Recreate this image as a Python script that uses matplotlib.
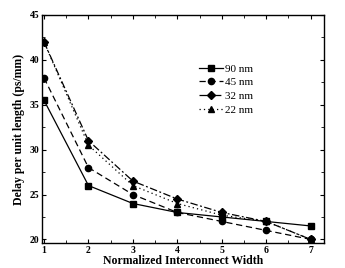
import matplotlib
matplotlib.use("Agg")
import matplotlib.pyplot as plt
from matplotlib.ticker import MultipleLocator

width = [1, 2, 3, 4, 5, 6, 7]
d90 = [35.5, 26, 24, 23, 22.5, 22, 21.5]
d45 = [38, 28, 25, 23, 22, 21, 20]
d32 = [42, 31, 26.5, 24.5, 23, 22, 20]
d22 = [42, 30.5, 26, 24, 22.7, 22, 20]

plt.rcParams['font.family'] = 'Liberation Serif'

fig = plt.figure(figsize=(3.45, 2.68), dpi=100)
ax = fig.add_axes([42/345, 1 - 243/268, 282/345, 228/268])

ax.plot(width, d90, '-', color='k', marker='s', ms=4.5, lw=0.9, label='90 nm')
ax.plot(width, d45, '--', color='k', marker='o', ms=4.5, lw=0.9, dashes=(5, 3), label='45 nm')
ax.plot(width, d32, '-.', color='k', marker='D', ms=4, lw=0.9, dashes=(6, 2, 1.5, 2), label='32 nm')
ax.plot(width, d22, ':', color='k', marker='^', ms=4.5, lw=0.9, dashes=(1, 2.5), label='22 nm')

ax.set_xlim(0.955, 7.3)
ax.set_ylim(19.6, 45)
ax.xaxis.set_major_locator(MultipleLocator(1))
ax.xaxis.set_minor_locator(MultipleLocator(0.5))
ax.yaxis.set_major_locator(MultipleLocator(5))
ax.yaxis.set_minor_locator(MultipleLocator(2.5))
ax.tick_params(which='both', direction='in', top=True, right=True, labelsize=7, pad=2)
ax.tick_params(which='major', length=3)
ax.tick_params(which='minor', length=2)
for lbl in ax.get_xticklabels() + ax.get_yticklabels():
    lbl.set_fontweight('bold')
for s in ax.spines.values():
    s.set_linewidth(1.0)

ax.set_xlabel('Normalized Interconnect Width', fontsize=8.5, fontweight='bold', labelpad=0)
ax.set_ylabel('Delay per unit length (ps/mm)', fontsize=8.5, fontweight='bold', labelpad=3)

ax.legend(loc='upper left', bbox_to_anchor=(0.52, 0.83), frameon=False, fontsize=8,
          handlelength=2.2, handletextpad=0.2, labelspacing=0.35)

fig.savefig('out.png', dpi=100)
